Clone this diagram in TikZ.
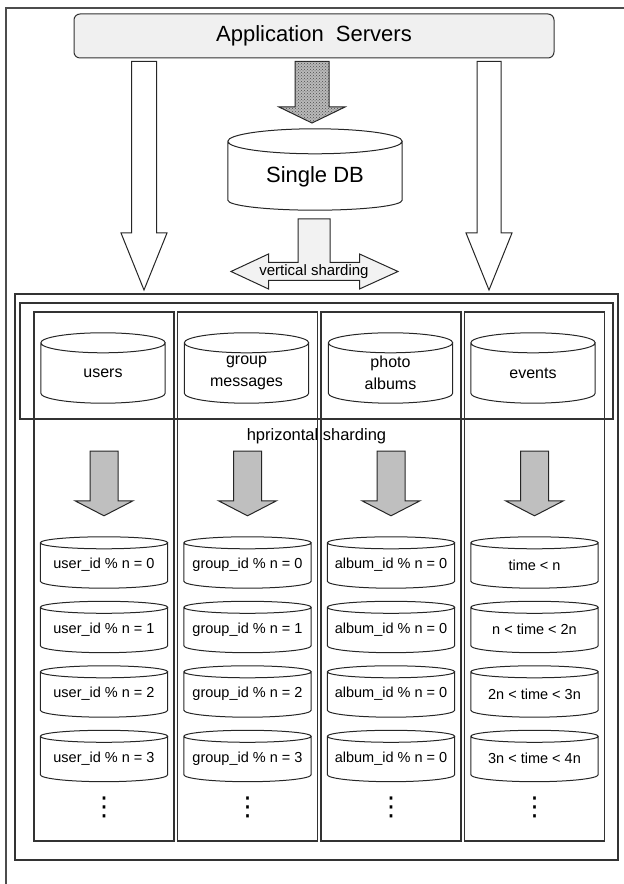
\documentclass[tikz,border=0pt]{standalone}
\usepackage{fontspec}
\setmainfont{Liberation Sans}
\newfontfamily\symfont{DejaVu Sans}
\usetikzlibrary{calc}
\usetikzlibrary{patterns}

% cylinder outline round a node: node, cap radius, bottom depth
\newcommand{\dbcyl}[3]{%
  \draw [dbline] let \p1=(#1.north west), \p2=(#1.south east), \n1={(\x2-\x1)/2} in
    (\x1,\y1+#2) arc [start angle=180, end angle=540, x radius=\n1, y radius=#2pt]
    -- (\x1,\y2) arc [start angle=180, end angle=360, x radius=\n1, y radius=#3pt]
    -- (\x2,\y1+#2);
}
% block arrow: style, top, tip, half shaft, half head, head length
\newcommand{\blockarrow}[6]{%
  \draw [#1] let \p1=#2, \p2=#3 in
    (\x2-#4,\y1) -- (\x2+#4,\y1) -- (\x2+#4,\y2+#6) -- (\x2+#5,\y2+#6)
    -- (\x2,\y2) -- (\x2-#5,\y2+#6) -- (\x2-#4,\y2+#6) -- cycle;
}

\begin{document}
\begin{tikzpicture}[x=1pt, y=1pt,
  frame/.style={draw=black!80, line width=1.1pt},
  dbline/.style={draw=black!85, line width=1pt},
  hollow/.style={draw=black!85, line width=1pt, fill=white},
  checkered/.style={draw=black!85, line width=1pt, fill=gray!55,
    postaction={pattern=crosshatch dots, pattern color=black!70}},
  shardarrow/.style={draw=black!85, line width=1pt, fill=gray!50},
  splitarrow/.style={draw=black!85, line width=1pt, fill=gray!10},
  appbox/.style={draw=black!80, line width=1pt, fill=gray!12, rounded corners=6pt,
    minimum width=480pt, minimum height=44pt, font=\fontsize{22}{26}\selectfont},
  table/.style={minimum width=124pt, minimum height=40pt, inner sep=0pt, align=center,
    font=\fontsize{16}{22}\selectfont},
  shard/.style={minimum width=127pt, minimum height=32pt, inner sep=0pt,
    font=\fontsize{14.5}{17}\selectfont},
  vdotsnode/.style={inner sep=0pt, font=\symfont\fontsize{26}{26}\selectfont}
]
\useasboundingbox (0,0) rectangle (624,884);

% outer frame, cut off at right and bottom
\draw [black!70, line width=1.4pt] (6,0) -- (6,876) -- (624,876);

\node [appbox] (appsrv) at (314,848) {Application\ \ Servers};

\node [minimum width=174pt, minimum height=46pt, inner sep=0pt,
  font=\fontsize{22}{26}\selectfont] (singledb) at (315,707) {\raisebox{-4pt}{Single DB}};
\dbcyl{singledb}{12.5}{10}

% arrows down from the servers
\coordinate (ltip) at (144,594);
\coordinate (rtip) at (489,594);
\coordinate (ctip) at (312,761);
\blockarrow{hollow}{($(appsrv.south -| ltip)+(0,-3)$)}{(ltip)}{12.5}{23}{57}
\blockarrow{hollow}{($(appsrv.south -| rtip)+(0,-3)$)}{(rtip)}{12}{23}{57}
\blockarrow{checkered}{($(appsrv.south -| ctip)+(0,-3)$)}{(ctip)}{17}{33}{16}

% vertical sharding
\coordinate (vs) at (314,612.5);
\draw [splitarrow, shift={(vs)}] (-16,52.5) -- (16,52.5) -- (16,9) -- (45.5,9) -- (45.5,17.5)
  -- (84,0) -- (45.5,-17.5) -- (45.5,-9) -- (-45.5,-9) -- (-45.5,-17.5) -- (-83,0)
  -- (-45.5,17.5) -- (-45.5,9) -- (-16,9) -- cycle;
\node [font=\fontsize{15}{15}\selectfont] (vslabel) at (vs) {vertical sharding};

% sharded part
\draw [frame] (15,24) rectangle (618,590);
\draw [frame] (20,465) rectangle (613,581);
\foreach \x in {104,247.5,391,534.5} {\draw [frame] (\x-70,43) rectangle (\x+70,572);}

\foreach \name/\x/\txt in {users/103/users, groupmsg/246.5/{group\\messages},
    photos/390.5/{photo\\albums}, events/533/events} {
  \node [table] (\name) at (\x,511) {\txt};
  \dbcyl{\name}{10}{10}
}

\node [font=\fontsize{16.5}{18}\selectfont] (hslabel) at (316.5,448) {hprizontal sharding};

\foreach \k/\y in {0/319, 1/254.5, 2/190, 3/125.5} {
  \node [shard] (user\k) at (104,\y) {user\_id \% n = \k};
  \dbcyl{user\k}{6}{7}
  \node [shard] (group\k) at (247.5,\y) {group\_id \% n = \k};
  \dbcyl{group\k}{6}{7}
  \node [shard] (album\k) at (391,\y) {album\_id \% n = 0};
  \dbcyl{album\k}{6}{7}
}
\foreach \k/\y/\txt in {0/319/{time < n}, 1/254.5/{n < time < 2n},
    2/190/{2n < time < 3n}, 3/125.5/{3n < time < 4n}} {
  \node [shard] (time\k) at (534.5,\y) {\txt};
  \dbcyl{time\k}{6}{7}
}

\foreach \src/\dst in {users/user0, groupmsg/group0, photos/album0, events/time0}
  {\blockarrow{shardarrow}{($(\src.south)+(0,-58)$)}{($(\dst.north)+(0,33)$)}{14}{29}{15}}

\foreach \c/\x in {1/104, 2/247.5, 3/391, 4/534.5} {\node [vdotsnode] (more\c) at (\x,77) {⋮};}

\end{tikzpicture}
\end{document}
